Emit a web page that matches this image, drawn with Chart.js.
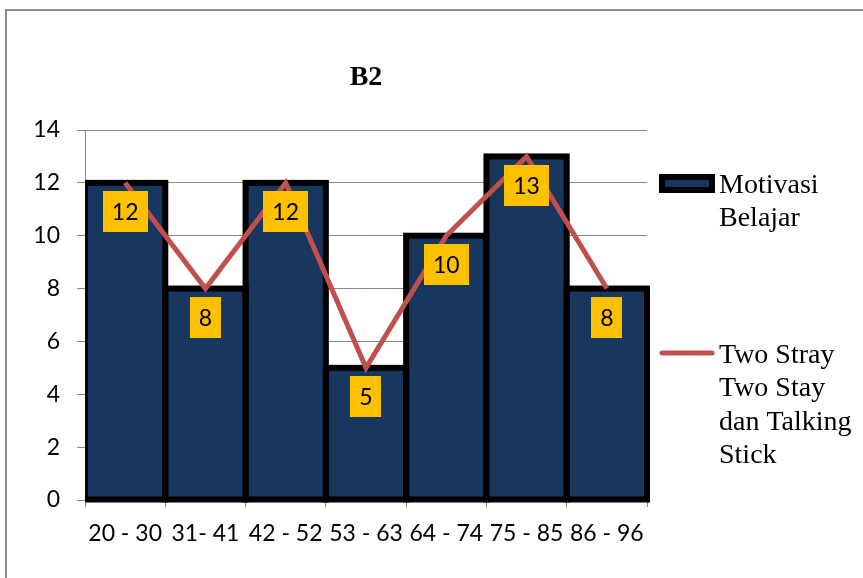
<!DOCTYPE html>
<html>
<head>
<meta charset="utf-8">
<title>B2</title>
<script src="https://cdn.jsdelivr.net/npm/chart.js@4.4.1/dist/chart.umd.min.js"></script>
<style>
    html, body { margin: 0; padding: 0; background: #fff; }
    #wrap { width: 863px; height: 578px; }
</style>
</head>
<body>
<div id="wrap"><canvas id="b2Chart" width="863" height="578"></canvas></div>
<script>
// kelas interval nilai dan frekuensinya
const kelas = ["20 - 30", "31- 41", "42 - 52", "53 - 63", "64 - 74", "75 - 85", "86 - 96"];
const motivasiBelajar = [12, 8, 12, 5, 10, 13, 8];
const twoStrayTalkingStick = [12, 8, 12, 5, 10, 13, 8];
const yTicks = [0, 2, 4, 6, 8, 10, 12, 14];
const judul = "B2";
const namaSeri = ["Motivasi Belajar", "Two Stray Two Stay dan Talking Stick"];

const WARNA_BATANG = "#17375E";
const WARNA_GARIS = "#C0504D";
const WARNA_LABEL = "#FFC000";
const WARNA_GRID = "#868686";
const FONT_SANS = "Lato";
const FONT_SERIF = "'Liberation Serif', 'Times New Roman', serif";
const UKURAN_SANS = 23;

/** bingkai abu-abu di sekeliling grafik */
const framePlugin = {
    id: "framePlugin",
    beforeDraw(chart) {
        const { ctx } = chart;
        ctx.save();
        ctx.fillStyle = "#fff";
        ctx.fillRect(0, 0, chart.width, chart.height);
        ctx.strokeStyle = "#8c8c8c";
        ctx.lineWidth = 2;
        ctx.strokeRect(6, 10, chart.width + 20, chart.height + 20);
        ctx.restore();
    }
};

/** garis tepi hitam tebal pada batang, dipusatkan di tepi batang */
const barOutlinePlugin = {
    id: "barOutlinePlugin",
    afterDatasetDraw(chart, args) {
        const meta = args.meta;
        if (meta.type !== "bar") return;
        const { ctx, chartArea } = chart;
        ctx.save();
        ctx.beginPath();
        ctx.rect(chartArea.left, 0, chart.width - chartArea.left, chart.height);
        ctx.clip();
        ctx.strokeStyle = "#000";
        ctx.lineWidth = 6;
        ctx.lineJoin = "miter";
        meta.data.forEach((bar) => {
            const p = bar.getProps(["x", "y", "base", "width"], true);
            ctx.strokeRect(p.x - p.width / 2, p.y, p.width, p.base - p.y);
        });
        ctx.restore();
    }
};

/** kotak label kuning di bawah setiap titik garis */
const valueBoxPlugin = {
    id: "valueBoxPlugin",
    afterDatasetsDraw(chart) {
        const { ctx } = chart;
        chart.data.datasets.forEach((ds, di) => {
            if (ds.type !== "line") return;
            const meta = chart.getDatasetMeta(di);
            ctx.save();
            ctx.font = `${UKURAN_SANS}px ${FONT_SANS}`;
            ctx.textAlign = "center";
            ctx.textBaseline = "middle";
            meta.data.forEach((pt, i) => {
                const txt = String(ds.data[i]);
                const w = ctx.measureText(txt).width + 18;
                const h = 41;
                const cy = pt.y + 29;
                ctx.fillStyle = WARNA_LABEL;
                ctx.fillRect(Math.round(pt.x - w / 2), Math.round(cy - h / 2), Math.round(w), h);
                ctx.fillStyle = "#000";
                ctx.fillText(txt, pt.x, cy + 1);
            });
            ctx.restore();
        });
    }
};

/** legenda di kanan, teks dibungkus per baris */
const sideLegendPlugin = {
    id: "sideLegendPlugin",
    afterDraw(chart) {
        const { ctx } = chart;
        const textX = 719;
        const maxW = chart.width - textX - 4;
        const lineH = 33.4;
        const firstBaseline = [193, 363];

        ctx.save();
        ctx.font = `28px ${FONT_SERIF}`;
        ctx.fillStyle = "#000";
        ctx.textAlign = "left";
        ctx.textBaseline = "alphabetic";

        chart.data.datasets.forEach((ds, di) => {
            // bungkus kata sesuai lebar yang tersedia
            const words = ds.label.split(" ");
            const lines = [];
            let cur = "";
            words.forEach((w) => {
                const test = cur ? cur + " " + w : w;
                if (cur && ctx.measureText(test).width > maxW) {
                    lines.push(cur);
                    cur = w;
                } else {
                    cur = test;
                }
            });
            if (cur) lines.push(cur);

            const base = firstBaseline[di];
            const midY = base - 10;

            if (ds.type === "line") {
                ctx.strokeStyle = ds.borderColor;
                ctx.lineWidth = 5;
                ctx.lineCap = "round";
                ctx.beginPath();
                ctx.moveTo(662, midY);
                ctx.lineTo(712, midY);
                ctx.stroke();
            } else {
                ctx.fillStyle = "#000";
                ctx.fillRect(659, midY - 9, 56, 19);
                ctx.fillStyle = ds.backgroundColor;
                ctx.fillRect(665, midY - 3, 44, 7);
            }

            ctx.fillStyle = "#000";
            lines.forEach((ln, li) => {
                ctx.fillText(ln, textX, base + li * lineH);
            });
        });
        ctx.restore();
    }
};

new Chart(document.getElementById("b2Chart").getContext("2d"), {
    type: "bar",
    data: {
        labels: kelas,
        datasets: [
            {
                type: "bar",
                label: namaSeri[0],
                data: motivasiBelajar,
                backgroundColor: WARNA_BATANG,
                borderWidth: 0,
                categoryPercentage: 1,
                barPercentage: 1,
                order: 2
            },
            {
                type: "line",
                label: namaSeri[1],
                data: twoStrayTalkingStick,
                borderColor: WARNA_GARIS,
                backgroundColor: WARNA_GARIS,
                borderWidth: 5,
                pointRadius: 0,
                tension: 0,
                fill: false,
                order: 1
            }
        ]
    },
    options: {
        responsive: false,
        animation: false,
        layout: {
            padding: { left: 0, right: 216, top: 0, bottom: 0 }
        },
        plugins: {
            legend: { display: false },
            tooltip: { enabled: false },
            title: {
                display: true,
                text: judul,
                fullSize: false,
                color: "#000",
                font: { family: FONT_SERIF, size: 28, weight: "bold", lineHeight: 1.2 },
                padding: { top: 61, bottom: 130 - 61 - 28 * 1.2 }
            }
        },
        scales: {
            x: {
                offset: true,
                grid: {
                    offset: true,
                    drawOnChartArea: false,
                    color: WARNA_GRID,
                    tickLength: 7
                },
                border: { color: WARNA_GRID, width: 1 },
                ticks: {
                    color: "#000",
                    font: { family: FONT_SANS, size: UKURAN_SANS },
                    padding: 13,
                    maxRotation: 0,
                    autoSkip: false
                },
                afterFit(scale) { scale.height = 78; }
            },
            y: {
                min: yTicks[0],
                max: yTicks[yTicks.length - 1],
                grid: {
                    color: WARNA_GRID,
                    tickLength: 8
                },
                border: { color: WARNA_GRID, width: 1 },
                ticks: {
                    color: "#000",
                    font: { family: FONT_SANS, size: UKURAN_SANS },
                    padding: 17
                },
                afterBuildTicks(scale) {
                    scale.ticks = yTicks.map((v) => ({ value: v }));
                },
                afterFit(scale) { scale.width = 85; }
            }
        }
    },
    plugins: [framePlugin, barOutlinePlugin, valueBoxPlugin, sideLegendPlugin]
});
</script>
</body>
</html>
